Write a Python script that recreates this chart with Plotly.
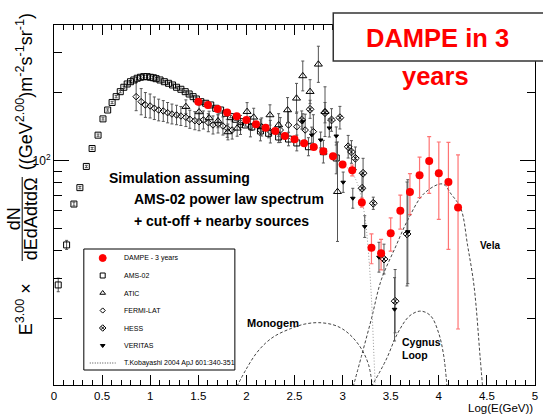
import numpy as np
import plotly.graph_objects as go

# ---------------- data (log10(E/GeV), E^3 flux) ----------------
dampe_x = [1.5, 1.6, 1.7, 1.8, 1.9, 2.0, 2.1, 2.2, 2.3, 2.4, 2.5, 2.6, 2.7, 2.8,
           2.9, 3.0, 3.1, 3.2, 3.3, 3.4, 3.5, 3.6, 3.7, 3.8, 3.9, 4.0, 4.1, 4.2]
dampe_y = [182.4, 176.4, 169.4, 163.4, 157.2, 151.4, 144.9, 140.0, 135.3, 128.6,
           124.4, 119.4, 115.0, 110.0, 104.6, 96.2, 90.7, 65.3, 41.2, 38.9,
           47.8, 60.1, 72.7, 86.2, 99.7, 88.0, 80.5, 62.0]
dampe_err = [2.5, 2.4, 2.3, 2.2, 2.2, 2.1, 2.0, 2.0, 2.0, 2.0, 2.0, 2.0, 2.1, 2.2,
             2.5, 3.0, 5.0, 3.0, 6.2, 6.0, 8.0, 10.3, 15.0, 17.5, 28.0, 33.0, 40.0, 44.0]

ams_x = [0.044, 0.131, 0.207, 0.269, 0.336, 0.396, 0.458, 0.509, 0.558, 0.604, 0.646,
         0.689, 0.726, 0.761, 0.795, 0.830, 0.865, 0.899, 0.933, 0.968, 1.002, 1.033,
         1.061, 1.102, 1.147, 1.191, 1.232, 1.274, 1.319, 1.364, 1.405, 1.446, 1.480,
         1.526, 1.577, 1.629, 1.681, 1.732, 1.784, 1.836, 1.887, 1.939, 1.991, 2.056,
         2.146, 2.231, 2.335, 2.438, 2.524, 2.645, 2.800, 2.934]
ams_y = [28.2, 42.4, 64.3, 76.0, 94.3, 113.2, 129.7, 153.1, 167.6, 181.0, 192.0,
         202.0, 211.3, 218.5, 223.6, 227.6, 231.6, 234.0, 235.4, 235.4, 234.0, 232.8,
         230.6, 227.6, 223.6, 220.0, 216.3, 211.3, 207.0, 202.0, 197.3, 192.0, 187.5,
         182.4, 179.5, 176.4, 170.6, 167.6, 162.1, 156.6, 152.5, 148.8, 143.9, 141.0,
         135.3, 132.2, 127.3, 124.7, 119.8, 115.3, 109.6, 102.8]
ams_err_dex = [0.03, 0.02, 0.008] + [0.005] * 40 + [0.015, 0.02, 0.02, 0.025, 0.03,
                                                     0.035, 0.04, 0.05, 0.07]

fermi_x = [0.854, 0.906, 0.950, 0.999, 1.043, 1.088, 1.136, 1.181, 1.226, 1.274, 1.319,
           1.371, 1.412, 1.464, 1.508, 1.553, 1.604, 1.653, 1.705, 1.756, 1.801, 1.852,
           1.939, 2.042, 2.146, 2.249, 2.352, 2.438, 2.524, 2.611, 2.696]
fermi_y = [192.0, 182.4, 176.4, 174.6, 170.6, 167.6, 165.9, 163.1, 160.9, 159.3, 157.7,
           155.6, 152.5, 150.3, 148.8, 151.4, 147.3, 143.9, 145.4, 142.4, 139.1, 136.7,
           143.9, 141.4, 136.7, 134.4, 136.7, 143.9, 141.4, 136.7, 134.4]
fermi_err_dex = [0.062, 0.058, 0.055, 0.053, 0.05, 0.048, 0.046, 0.045, 0.044, 0.043,
                 0.042, 0.041, 0.04, 0.04, 0.04, 0.04, 0.04, 0.04, 0.04, 0.04, 0.04,
                 0.04, 0.042, 0.045, 0.048, 0.05, 0.055, 0.06, 0.065, 0.07, 0.075]

atic_x = [1.371, 1.508, 1.612, 1.705, 1.808, 1.904, 2.007, 2.076, 2.159, 2.245, 2.335,
          2.428, 2.521, 2.586, 2.662, 2.748, 2.817, 2.947]
atic_y = [173.4, 164.3, 154.5, 149.9, 134.0, 139.1, 164.8, 155.6, 141.0, 159.3, 143.9,
          167.6, 188.8, 237.1, 202.0, 267.0, 164.8, 72.9]
atic_err_dex = [0.03, 0.03, 0.03, 0.03, 0.035, 0.035, 0.04, 0.04, 0.04, 0.045, 0.05,
                0.055, 0.066, 0.066, 0.053, 0.08, 0.11, 0.22]

hess_x = [2.575, 2.662, 2.817, 2.885, 2.972, 3.058, 3.092, 3.133, 3.213, 3.202, 3.319,
          3.430, 3.546, 3.670]
hess_y = [151.4, 168.8, 163.1, 151.4, 155.0, 115.3, 109.3, 102.5, 88.0, 75.5, 64.8,
          36.7, 23.9, 47.4]
hess_err_dex = [0.04, 0.04, 0.045, 0.05, 0.05, 0.05, 0.05, 0.05, 0.066, 0.066, 0.027,
                0.066, 0.14, 0.23]

veritas_x = [2.586, 2.679, 2.772, 2.862, 2.934, 3.006, 3.106, 3.230, 3.378, 3.540, 3.678]
veritas_y = [148.8, 129.9, 123.5, 139.6, 128.6, 80.3, 68.2, 51.1, 37.4, 22.0, 48.5]
veritas_err_dex = [0.035, 0.035, 0.035, 0.04, 0.04, 0.045, 0.044, 0.048, 0.066, 0.14, 0.23]

# Kobayashi et al. model curves
monogem_x = [1.90, 2.0, 2.1, 2.2, 2.3, 2.45, 2.6, 2.75, 2.9, 3.0, 3.1, 3.2, 3.27, 3.31]
monogem_y = [10.0, 12.0, 14.0, 15.6, 16.8, 18.0, 18.9, 19.2, 18.8, 18.0, 16.6, 14.6, 12.5, 10.0]
cygnus_x = [3.30, 3.45, 3.574, 3.698, 3.812, 3.915, 3.998, 4.05, 4.085]
cygnus_y = [10.0, 13.1, 17.3, 20.6, 21.6, 20.6, 17.3, 13.8, 10.0]
vela_x = [3.11, 3.195, 3.30, 3.402, 3.55, 3.678, 3.85, 4.039, 4.13, 4.228, 4.30, 4.367, 4.429, 4.455]
vela_y = [10.0, 13.6, 20.0, 29.7, 41.5, 54.7, 71.8, 78.9, 71.0, 61.6, 42.0, 27.7, 13.6, 10.0]
bkg_x = [2.6, 2.8, 3.0, 3.1, 3.15, 3.195, 3.235, 3.264, 3.299, 3.326, 3.345]
bkg_y = [124.0, 110.0, 97.0, 88.0, 80.0, 69.0, 55.0, 41.6, 25.0, 13.6, 9.0]

x_ticks = [0, 0.5, 1, 1.5, 2, 2.5, 3, 3.5, 4, 4.5, 5]
x_tick_labels = ["0", "0.5", "1", "1.5", "2", "2.5", "3", "3.5", "4", "4.5", "5"]
y_ticks = [100]
y_tick_labels = ["10<sup>2</sup>"]
y_minor = [20, 30, 40, 50, 60, 70, 80, 90, 200, 300]

legend_names = ["DAMPE - 3 years", "AMS-02", "ATIC", "FERMI-LAT", "HESS", "VERITAS",
                "T.Kobayashi 2004 ApJ 601:340-351"]

# ---------------- layout helpers ----------------
W, H = 543, 416
L, R, T, B = 54, 5, 25, 31
PW, PH = W - L - R, H - T - B
FONT = "Liberation Sans, Arial, sans-serif"


def px(x):
    return (x - L) / PW


def py(y):
    return (H - B - y) / PH


def dex_err(y, d):
    y = np.asarray(y, float)
    d = np.asarray(d, float)
    return y * (10 ** d - 1), y * (1 - 10 ** (-d))


fig = go.Figure()

curve_style = dict(color="#444", width=1, dash="3px,2px")
for cx, cy in [(monogem_x, monogem_y), (cygnus_x, cygnus_y), (vela_x, vela_y)]:
    fig.add_trace(go.Scatter(x=cx, y=cy, mode="lines", line=curve_style,
                             line_shape="spline", showlegend=False, hoverinfo="skip"))
fig.add_trace(go.Scatter(x=bkg_x, y=bkg_y, mode="lines", line_shape="spline",
                         line=dict(color="#999", width=1, dash="1px,2px"),
                         showlegend=False))


def add_points(x, y, d, symbol, size, color="black", ecolor="#555"):
    up, dn = dex_err(y, d)
    fig.add_trace(go.Scatter(
        x=x, y=y, mode="markers",
        marker=dict(symbol=symbol, size=size, color=color,
                    line=dict(color=color, width=1)),
        error_y=dict(type="data", symmetric=False, array=up, arrayminus=dn,
                     color=ecolor, thickness=1, width=1.5),
        showlegend=False))


add_points(fermi_x, fermi_y, fermi_err_dex, "diamond-open", 5)
add_points(ams_x, ams_y, ams_err_dex, "square-open", 6)
add_points(atic_x, atic_y, atic_err_dex, "triangle-up-open", 7)
add_points(hess_x, hess_y, hess_err_dex, "diamond-x-open", 6)
add_points(veritas_x, veritas_y, veritas_err_dex, "triangle-down", 4)

fig.add_trace(go.Scatter(
    x=dampe_x, y=dampe_y, mode="markers",
    marker=dict(symbol="circle", size=8, color="#ff0000"),
    error_y=dict(type="data", array=dampe_err, color="rgba(255,70,70,0.75)",
                 thickness=1.2, width=2),
    showlegend=False))

# ---------------- legend (drawn on its own small axes) ----------------
leg_rows = [9 + 17.5 * i for i in range(len(legend_names))]
leg_style = [("circle", 7, "#ff0000"), ("square-open", 5, "black"),
             ("triangle-up-open", 5, "black"), ("diamond-open", 4, "black"),
             ("diamond-x-open", 5, "black"), ("triangle-down", 4, "black")]
for (sym, sz, col), ry in zip(leg_style, leg_rows):
    fig.add_trace(go.Scatter(x=[19], y=[ry], mode="markers", xaxis="x2", yaxis="y2",
                             marker=dict(symbol=sym, size=sz, color=col,
                                         line=dict(color=col, width=1)),
                             showlegend=False, hoverinfo="skip"))
fig.add_trace(go.Scatter(x=[6, 32], y=[leg_rows[-1]] * 2, mode="lines", xaxis="x2", yaxis="y2",
                         line=dict(color="#444", width=1, dash="1px,1.5px"),
                         showlegend=False, hoverinfo="skip"))

annotations = []
for name, ry in zip(legend_names, leg_rows):
    annotations.append(dict(x=38.5, y=ry, xref="x2", yref="y2", text=name,
                            showarrow=False, xanchor="left", yanchor="middle",
                            font=dict(family=FONT, size=7, color="black")))


def txt(t, x, y, size, xa="left", color="black", bold=True, angle=0):
    annotations.append(dict(x=px(x), y=py(y), xref="paper", yref="paper",
                            text=(f"<b>{t}</b>" if bold else t), showarrow=False,
                            xanchor=xa, yanchor="middle", textangle=angle,
                            font=dict(family=FONT, size=size, color=color)))


txt("Simulation assuming", 107, 177.5, 14)
txt("AMS-02 power law spectrum", 132, 199, 14)
txt("+ cut-off + nearby sources", 132, 220.5, 14)
txt("Monogem", 246, 323, 11)
txt("Cygnus", 402, 341.5, 10.5)
txt("Loop", 402, 354.5, 10.5)
txt("Vela", 481, 245, 10)
txt("DAMPE in 3", 440, 37.5, 25.5, xa="center", color="#ff0000")
txt("years", 438, 76, 25.5, xa="center", color="#ff0000")
txt("Log(E(GeV))", 538, 407.5, 11.5, xa="right", bold=False)

# y-axis title pieces (rotated)
txt("E<sup>3.00</sup> ×", 24, 309, 18, xa="center", bold=False, angle=-90)
txt("dN", 14, 219, 18, xa="center", bold=False, angle=-90)
txt("dEdAdtdΩ", 31, 219, 18, xa="center", bold=False, angle=-90)
txt("((GeV<sup>2.00</sup>)m<sup>-2</sup>s<sup>-1</sup>sr<sup>-1</sup>)", 24, 92, 18,
    xa="center", bold=False, angle=-90)

shapes = [
    dict(type="line", xref="paper", yref="paper", x0=px(22), x1=px(22),
         y0=py(177), y1=py(261), line=dict(color="black", width=1)),
    dict(type="rect", xref="paper", yref="paper", x0=px(84), x1=px(236),
         y0=py(370), y1=py(249), line=dict(color="black", width=1),
         fillcolor="white", layer="below"),
    dict(type="rect", xref="paper", yref="paper", x0=px(335), x1=px(548),
         y0=py(61), y1=py(13), line=dict(color="#333", width=1.5),
         fillcolor="white", layer="above"),
]

fig.update_layout(
    width=W, height=H, margin=dict(l=L, r=R, t=T, b=B),
    paper_bgcolor="white", plot_bgcolor="rgba(0,0,0,0)",
    font=dict(family=FONT, size=12, color="black"),
    showlegend=False, annotations=annotations, shapes=shapes,
    xaxis=dict(range=[0, 5], tickvals=x_ticks, ticktext=x_tick_labels,
               ticks="inside", ticklen=10, tickcolor="black", showline=True,
               linecolor="black", linewidth=1, mirror="ticks", showgrid=False,
               zeroline=False, tickfont=dict(size=11.5, family=FONT),
               minor=dict(dtick=0.1, tick0=0, ticks="inside", ticklen=5,
                          tickcolor="black", showgrid=False)),
    yaxis=dict(type="log", range=[1.0075, 2.6004], tickvals=y_ticks,
               ticktext=y_tick_labels, ticks="inside", ticklen=15,
               tickcolor="black", showline=True, linecolor="black", linewidth=1,
               mirror="ticks", showgrid=False, zeroline=False,
               tickfont=dict(size=12, family=FONT),
               minor=dict(tickvals=y_minor, ticks="inside", ticklen=8,
                          tickcolor="black", showgrid=False)),
    xaxis2=dict(domain=[px(84), px(236)], range=[0, 152], visible=False,
                anchor="y2", fixedrange=True),
    yaxis2=dict(domain=[py(370), py(249)], range=[121, 0], visible=False,
                anchor="x2", fixedrange=True),
)

fig.write_html("out.html", config={"displayModeBar": False},
               post_script="document.body.style.margin='0px';"
                           "document.body.style.overflow='hidden';")
